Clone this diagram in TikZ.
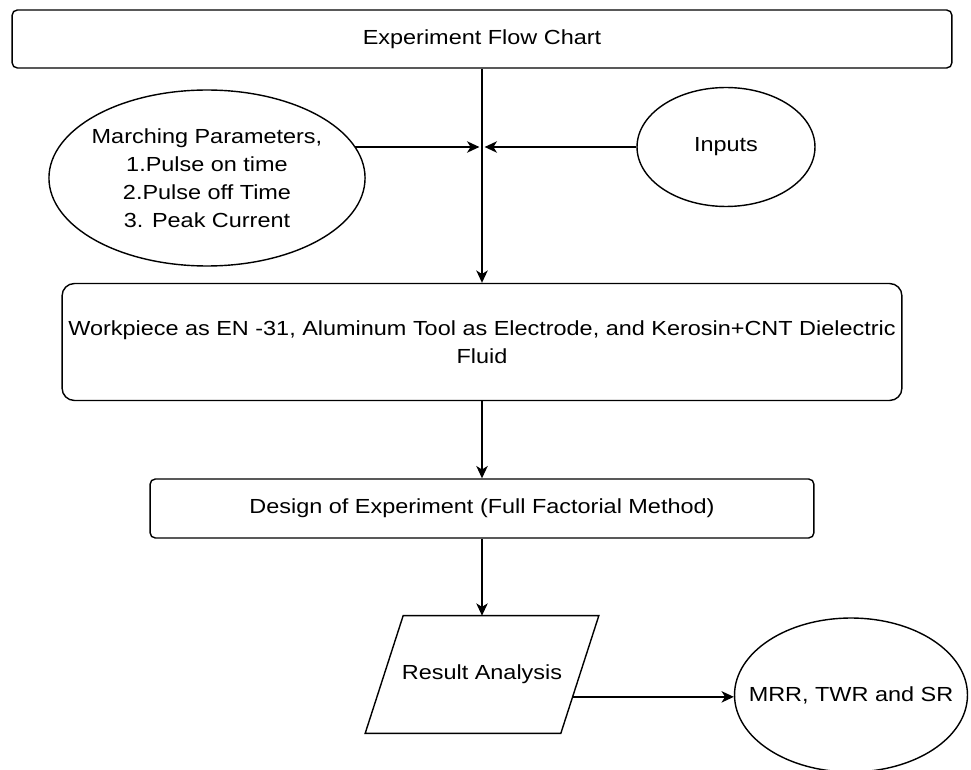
\documentclass[tikz,border=0pt]{standalone}
\usepackage{fontspec}
\setmainfont{Liberation Sans}[FakeStretch=1.15]
\usepackage{tikz}
\usetikzlibrary{arrows.meta,positioning,shapes.geometric,calc}
\tikzset{
  boxnode/.style={rectangle,draw=black,line width=0.8pt,align=center,inner sep=2pt},
  ovalnode/.style={ellipse,draw=black,line width=0.8pt,align=center,inner sep=0pt},
  datanode/.style={rectangle,align=center,minimum width=3.9cm,minimum height=2.34cm},
  arr/.style={-{Stealth[length=7pt,width=6.5pt,inset=2pt]},line width=0.8pt}
}
\begin{document}
\begin{tikzpicture}[x=0.02cm,y=-0.02cm,font=\fontsize{11.6}{15.9}\selectfont]
\useasboundingbox (0,0) rectangle (971,770);
\node[boxnode,rounded corners=3pt,minimum width=18.8cm,minimum height=1.16cm] (title) at (482,39) {Experiment Flow Chart};
\node[ovalnode,inner xsep=-2pt,minimum width=6.32cm,minimum height=3.52cm] (params) at (207,178) {Marching Parameters,\\1.Pulse on time\\2.Pulse off Time\\3. Peak Current};
\node[ovalnode,minimum width=3.56cm,minimum height=2.38cm] (inputs) at (726,147) {Inputs};
\coordinate (join) at (482,147);
\node[boxnode,rounded corners=7pt,minimum width=16.8cm,minimum height=2.34cm] (work) at (482,342) {Workpiece as EN -31, Aluminum Tool as Electrode, and Kerosin+CNT Dielectric\\Fluid};
\node[boxnode,rounded corners=3pt,minimum width=13.28cm,minimum height=1.18cm] (doe) at (482,508.5) {Design of Experiment (Full Factorial Method)};
\node[datanode] (result) at (482,674.5) {Result Analysis};
\draw[line width=0.8pt] ([xshift=0.38cm]result.north west) -- ([xshift=0.38cm]result.north east)
  -- ([xshift=-0.38cm]result.south east) -- ([xshift=-0.38cm]result.south west) -- cycle;
\node[ovalnode,inner xsep=-12pt,minimum width=4.66cm,minimum height=3.08cm] (mrr) at (851,695) {MRR, TWR and SR};
\coordinate (ra) at ($([xshift=-0.38cm]result.south east)!0.31!([xshift=0.38cm]result.north east)$);
  \draw[arr] (title.south) to (work.north);
  \draw[arr,shorten >=1.5pt] (params.12 |- join) to (join);
  \draw[arr,shorten >=1.5pt] (inputs.west) to (join);
  \draw[arr] (work.south) to (doe.north);
  \draw[arr] (doe.south) to (result.north);
  \draw[arr] (ra) to (mrr.west |- ra);
\end{tikzpicture}
\end{document}
